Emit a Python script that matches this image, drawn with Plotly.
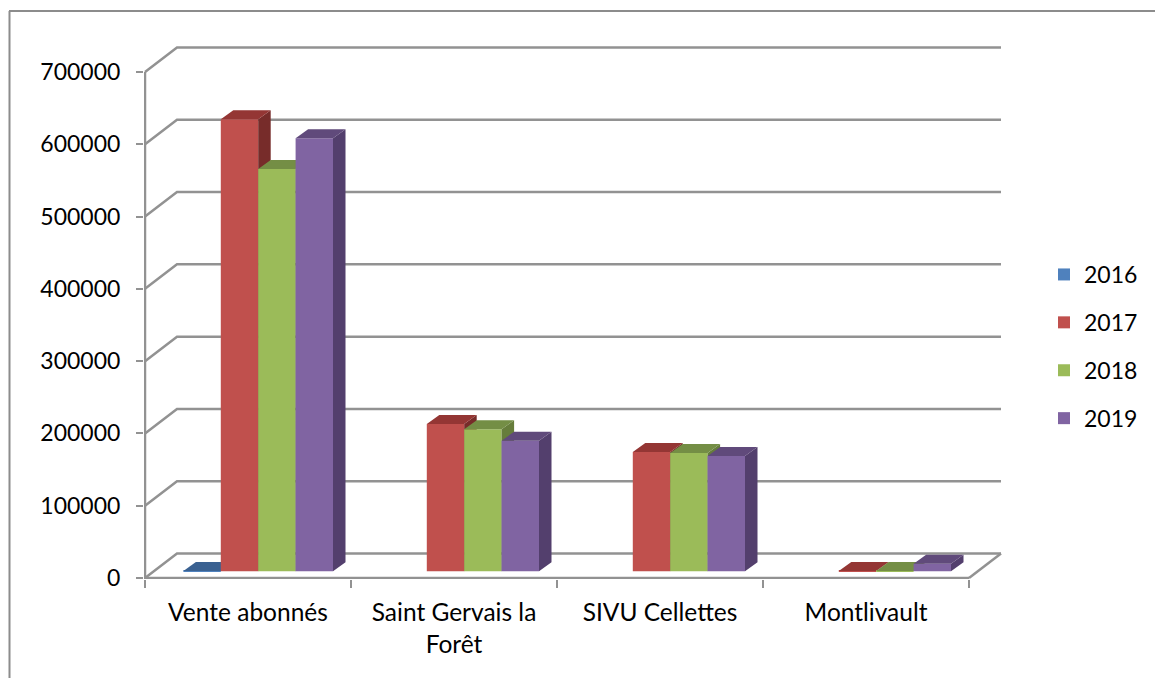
import plotly.graph_objects as go

categories = ["Vente abonnés", "Saint Gervais la<br>Forêt", "SIVU Cellettes", "Montlivault"]
years = ["2016", "2017", "2018", "2019"]
v2016 = [500, 0, 0, 0]
v2017 = [625300, 203800, 165000, 500]
v2018 = [556500, 196400, 163500, 500]
v2019 = [599000, 180700, 159500, 10500]
y_ticks = [0, 100000, 200000, 300000, 400000, 500000, 600000, 700000]
series_values = [v2016, v2017, v2018, v2019]
front_colors = ["#4F81BD", "#C0504D", "#9BBB59", "#8064A2"]
top_colors = ["#3A6191", "#943634", "#748E45", "#604A7B"]
side_colors = ["#2F4F77", "#772C2A", "#667D3B", "#533F6D"]

W, H = 1155, 678
X0, X4, Y7, Y0 = 145, 969, 72, 578      # front plane, pixels
PL, PR, PT, PB = 144, 1004, 45, 579     # plot area, pixels (holds the back walls too)
YMAX = 700000
px_x = 4 / (X4 - X0)
px_y = YMAX / (Y0 - Y7)
x_range = [(PL - X0) * px_x, (PR - X0) * px_x]
y_range = [(Y0 - PB) * px_y, (Y0 - PT) * px_y]
WALL_DX, WALL_DY = 32 * px_x, 24.5 * px_y
BAR_DX, BAR_DY = 12.5 * px_x, 9 * px_y
BASE = 6.7 * px_y
GROUP_START = 38.4 * px_x
BAR_W = 37.4 * px_x
GRID = "#929292"
FONT = dict(family="Lato", size=23, color="#000000")
CAT_FONT = dict(family="Lato", size=24.5, color="#000000")

fig = go.Figure()

# front axis lines, back walls and floor on the main axes
wx, wy = [0, 0, 4, None], [YMAX, 0, 0, None]
for v in y_ticks:
    wx += [0, WALL_DX, 4 + WALL_DX, None]
    wy += [v, v + WALL_DY, v + WALL_DY, None]
wx += [4, 4 + WALL_DX, None]
wy += [0, WALL_DY, None]
fig.add_trace(go.Scatter(x=wx, y=wy, mode="lines", line=dict(color=GRID, width=2.5),
                         showlegend=False, hoverinfo="skip"))

# one overlaid pair of axes per series, so that each series paints over the one before
for s, (name, vals) in enumerate(zip(years, series_values)):
    n = s + 2
    xa, ya = f"x{n}", f"y{n}"
    xl = [c + GROUP_START + s * BAR_W for c in range(4)]
    fig.add_trace(go.Bar(x=[a + BAR_W / 2 for a in xl], y=vals, base=BASE, width=BAR_W,
                         name=name, marker=dict(color=front_colors[s], line=dict(width=0)),
                         xaxis=xa, yaxis=ya, legendgroup=name))
    sx, sy, tx, ty = [], [], [], []
    for a, v in zip(xl, vals):
        if v <= 0:
            continue
        r = a + BAR_W
        top = BASE + v
        sx += [r, r, r + BAR_DX, r + BAR_DX, r, None]
        sy += [BASE, top, top + BAR_DY, BASE + BAR_DY, BASE, None]
        tx += [a, r, r + BAR_DX, a + BAR_DX, a, None]
        ty += [top, top, top + BAR_DY, top + BAR_DY, top, None]
    for fx_, fy_, col in ((sx, sy, side_colors[s]), (tx, ty, top_colors[s])):
        fig.add_trace(go.Scatter(x=fx_, y=fy_, mode="lines", fill="toself", fillcolor=col,
                                 line=dict(width=0, color=col),
                                 showlegend=False, hoverinfo="skip", xaxis=xa, yaxis=ya))
    fig.update_layout({
        f"xaxis{n}": dict(overlaying="x", anchor=ya, range=x_range, visible=False),
        f"yaxis{n}": dict(overlaying="y", anchor=xa, range=y_range, visible=False),
    })

def fx(p):
    return (p - PL) / (PR - PL)
def fy(p):
    return (PB - p) / (PB - PT)

fig.update_layout(
    width=W, height=H, autosize=False,
    margin=dict(l=PL, r=W - PR, t=PT, b=H - PB, pad=0, autoexpand=False),
    paper_bgcolor="#FFFFFF", plot_bgcolor="rgba(0,0,0,0)",
    font=FONT, barmode="overlay",
    xaxis=dict(range=x_range, tickmode="array", tickvals=[0.5, 1.5, 2.5, 3.5], ticktext=categories,
               ticks="outside", ticklen=12, tickcolor="rgba(0,0,0,0)", showgrid=False, zeroline=False,
               showline=False, tickfont=CAT_FONT,
               minor=dict(tickmode="array", tickvals=[0, 1, 2, 3, 4], ticks="outside", ticklen=8,
                          tickwidth=2, tickcolor=GRID, showgrid=False)),
    yaxis=dict(range=y_range, tickmode="array", tickvals=y_ticks, ticktext=[str(v) for v in y_ticks],
               ticks="outside", ticklen=7, tickwidth=2, tickcolor=GRID, showgrid=False, zeroline=False,
               showline=False, tickfont=FONT, ticklabelstandoff=11),
    legend=dict(x=fx(1044), y=fy(253), xanchor="left", yanchor="top", font=FONT,
                tracegroupgap=15, bgcolor="rgba(0,0,0,0)", itemclick=False, itemdoubleclick=False),
    shapes=[
        dict(type="line", xref="paper", yref="paper", x0=fx(9.5), x1=fx(9.5), y0=fy(11), y1=fy(680),
             line=dict(color="#8C8C8C", width=2)),
        dict(type="line", xref="paper", yref="paper", x0=fx(9), x1=fx(1156), y0=fy(11), y1=fy(11),
             line=dict(color="#8C8C8C", width=2)),
    ],
)

fig.write_html("out.html", config=dict(displayModeBar=False),
               post_script="document.body.style.margin='0';document.body.style.overflow='hidden';")
